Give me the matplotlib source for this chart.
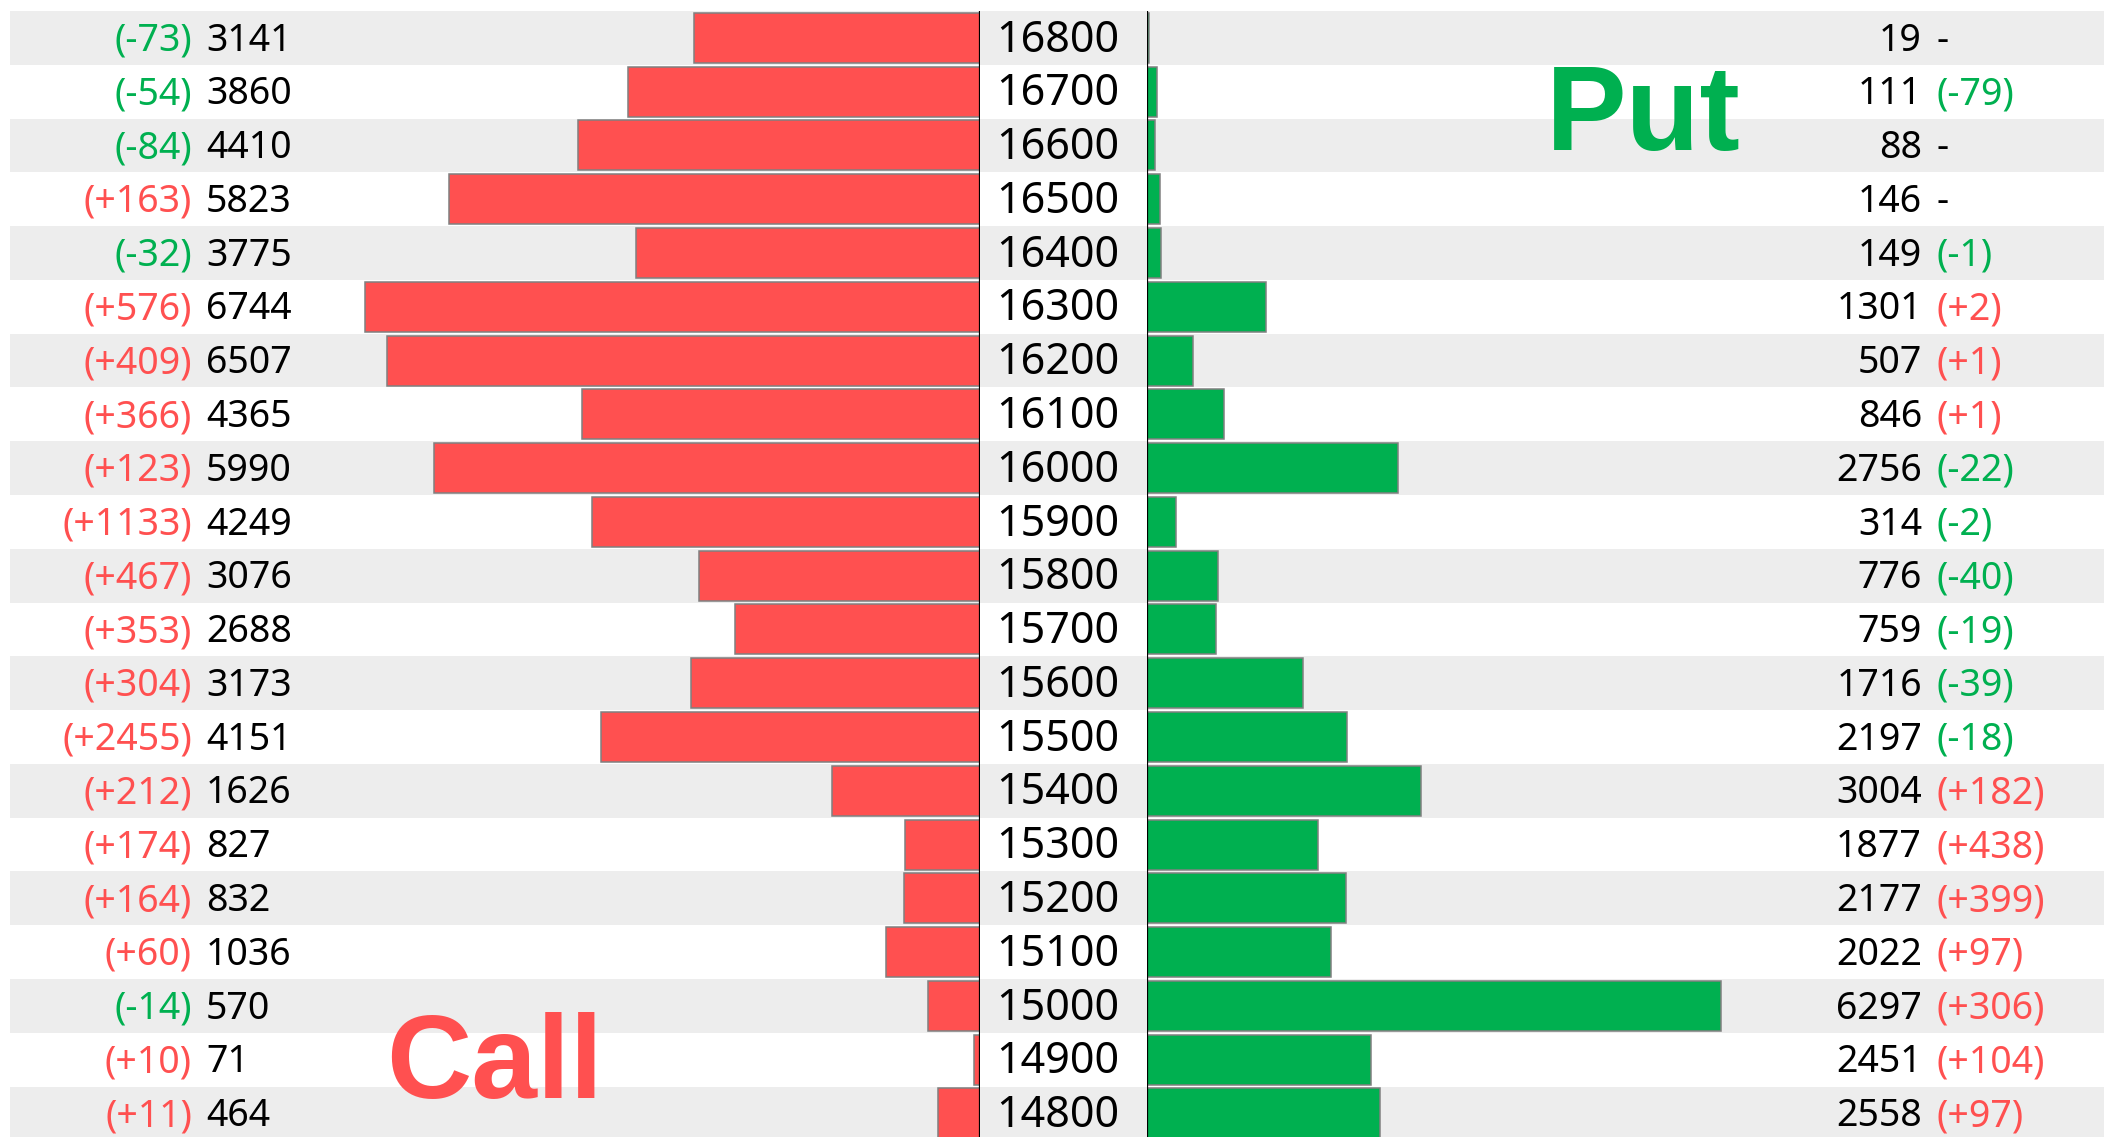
import matplotlib
matplotlib.use("Agg")
import matplotlib.pyplot as plt
from matplotlib.transforms import blended_transform_factory

# ---------------- data ----------------
strikes = [16800, 16700, 16600, 16500, 16400, 16300, 16200, 16100, 16000, 15900,
           15800, 15700, 15600, 15500, 15400, 15300, 15200, 15100, 15000, 14900, 14800]
call_oi = [3141, 3860, 4410, 5823, 3775, 6744, 6507, 4365, 5990, 4249,
           3076, 2688, 3173, 4151, 1626, 827, 832, 1036, 570, 71, 464]
call_chg = [-73, -54, -84, 163, -32, 576, 409, 366, 123, 1133,
            467, 353, 304, 2455, 212, 174, 164, 60, -14, 10, 11]
put_oi = [19, 111, 88, 146, 149, 1301, 507, 846, 2756, 314,
          776, 759, 1716, 2197, 3004, 1877, 2177, 2022, 6297, 2451, 2558]
put_chg = [0, -79, 0, 0, -1, 2, 1, 1, -22, -2,
           -40, -19, -39, -18, 182, 438, 399, 97, 306, 104, 97]

RED = "#FF5050"
GREEN = "#00B050"
BAND = "#EDEDED"
EDGE = "#808080"
FONT = ["Noto Sans", "DejaVu Sans"]
TITLE_FONT = ["Liberation Sans Narrow", "Liberation Sans", "DejaVu Sans"]

W, H = 2104, 1137
fig = plt.figure(figsize=(W / 100, H / 100), dpi=100)
fig.patch.set_facecolor("white")

n = len(strikes)
rows = list(range(n))
row_h = 53.78
top = 11
bottom_px = top + row_h * n
ax_bottom = (H - bottom_px) / H
ax_height = (bottom_px - top) / H

px_per_unit = 0.0912

def fx(px):
    return px / W

# background bands
ax_bg = fig.add_axes([fx(10), ax_bottom, fx(W - 10), ax_height])
ax_bg.set_xlim(0, 1)
ax_bg.set_ylim(n - 0.5, -0.5)
ax_bg.barh(rows[::2], [1] * len(rows[::2]), left=0, height=1.0, color=BAND, linewidth=0)
ax_bg.axis("off")

# call side
axL = fig.add_axes([fx(10), ax_bottom, fx(970), ax_height])
axL.patch.set_alpha(0)
axL.set_xlim(970 / px_per_unit, 0)
axL.set_ylim(n - 0.5, -0.5)
axL.barh(rows, call_oi, height=0.93, color=RED, edgecolor=EDGE, linewidth=1.1)
axL.axvline(0, color="black", lw=1.6)
axL.axis("off")

# put side
axR = fig.add_axes([fx(1147), ax_bottom, fx(W - 1147), ax_height])
axR.patch.set_alpha(0)
axR.set_xlim(0, (W - 1147) / px_per_unit)
axR.set_ylim(n - 0.5, -0.5)
axR.barh(rows, put_oi, height=0.93, color=GREEN, edgecolor=EDGE, linewidth=1.1)
axR.axvline(0, color="black", lw=1.6)
axR.axis("off")

trL = blended_transform_factory(fig.transFigure, axL.transData)

def fmt_chg(v):
    if v == 0:
        return "-", "black"
    s = "(+%d)" % v if v > 0 else "(-%d)" % abs(v)
    return s, (RED if v > 0 else GREEN)

SIDE_FS = 27
STRIKE_FS = 31
DY = 0.05
for i in rows:
    y = i + DY
    # strike labels
    fig.text(fx(996), y, str(strikes[i]), transform=trL, ha="left", va="center",
             fontsize=STRIKE_FS, family=FONT, color="black")
    # call values
    fig.text(fx(206), y, str(call_oi[i]), transform=trL, ha="left", va="center",
             fontsize=SIDE_FS, family=FONT, color="black")
    s, c = fmt_chg(call_chg[i])
    fig.text(fx(192), y, s, transform=trL, ha="right", va="center",
             fontsize=SIDE_FS, family=FONT, color=c)
    # put values
    fig.text(fx(1922), y, str(put_oi[i]), transform=trL, ha="right", va="center",
             fontsize=SIDE_FS, family=FONT, color="black")
    s, c = fmt_chg(put_chg[i])
    fig.text(fx(1936), y, s, transform=trL, ha="left", va="center",
             fontsize=SIDE_FS, family=FONT, color=c)

# titles
fig.text(fx(1546), 1 - 150 / H, "Put", ha="left", va="baseline", fontsize=87,
         fontweight="bold", family=TITLE_FONT, color=GREEN)
fig.text(fx(386), 1 - 1098 / H, "Call", ha="left", va="baseline", fontsize=85,
         fontweight="bold", family=TITLE_FONT, color=RED)

fig.savefig("out.png", dpi=100, facecolor="white")
